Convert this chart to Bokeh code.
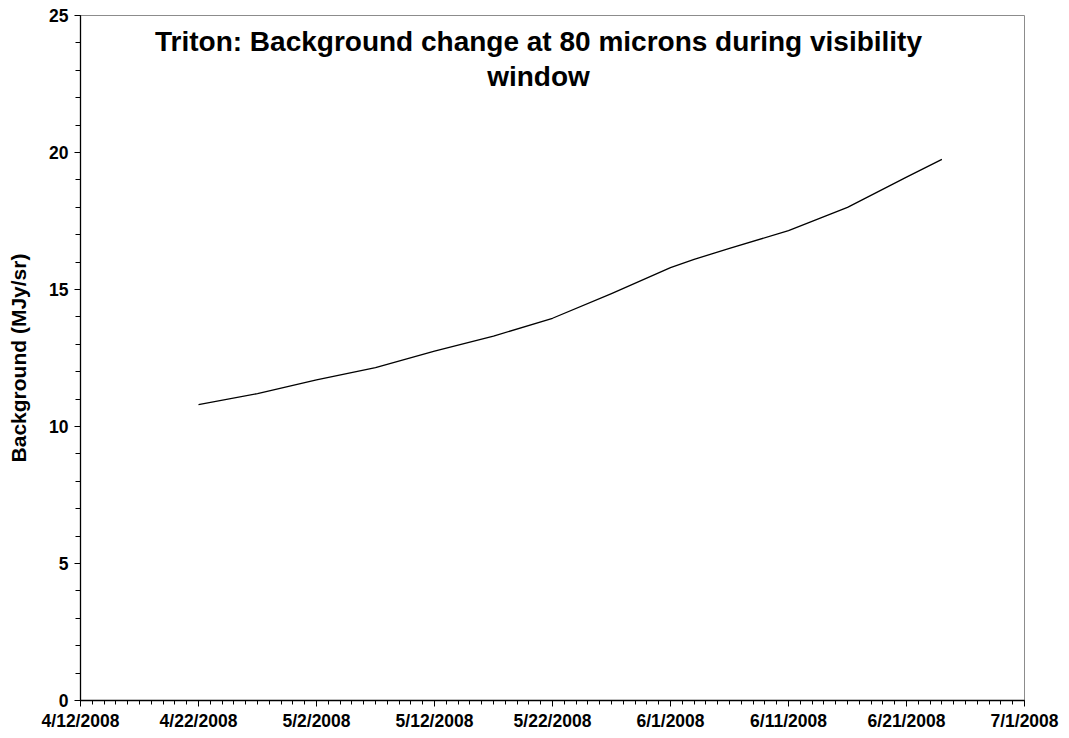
import datetime as dt
from bokeh.plotting import figure
from bokeh.models import FixedTicker, DatetimeTickFormatter, Label, Range1d, ColumnDataSource
from bokeh.embed import file_html
from bokeh.resources import INLINE

# ---- data ----
dates = ["2008-04-22", "2008-04-27", "2008-05-02", "2008-05-07", "2008-05-12",
         "2008-05-17", "2008-05-22", "2008-05-27", "2008-06-01", "2008-06-03",
         "2008-06-06", "2008-06-11", "2008-06-16", "2008-06-21", "2008-06-24"]
background = [10.8, 11.2, 11.7, 12.15, 12.75, 13.3, 13.95, 14.85, 15.8, 16.1,
              16.5, 17.15, 18.0, 19.1, 19.75]
x_start = "2008-04-12"
x_end = "2008-07-01"
major_step_days = 10
y_min, y_max = 0, 25
y_ticks = [0, 5, 10, 15, 20, 25]
title_lines = ["Triton: Background change at 80 microns during visibility", "window"]
y_label = "Background (MJy/sr)"

def to_dt(s):
    return dt.datetime.strptime(s, "%Y-%m-%d")

def ms(d):
    return (d - dt.datetime(1970, 1, 1)).total_seconds() * 1000.0

xs = [to_dt(d) for d in dates]
x0, x1 = to_dt(x_start), to_dt(x_end)
ndays = (x1 - x0).days
major = [ms(x0 + dt.timedelta(days=i)) for i in range(0, ndays + 1, major_step_days)]
minor = [ms(x0 + dt.timedelta(days=i)) for i in range(0, ndays + 1)]

W, H = 1060, 733
p = figure(width=W, height=H, x_axis_type="datetime", output_backend="svg",
           toolbar_location=None, x_range=Range1d(ms(x0), ms(x1)),
           y_range=Range1d(y_min, y_max),
           min_border_left=80, min_border_right=36, min_border_top=15, min_border_bottom=30)
p.background_fill_color = "white"
p.border_fill_color = "white"
p.outline_line_color = "#8c8c8c"
p.outline_line_width = 1
p.xgrid.visible = False
p.ygrid.visible = False

src = ColumnDataSource(dict(x=xs, y=background))
p.line("x", "y", source=src, line_color="black", line_width=1.3, line_join="round")

font = "Liberation Sans"
p.xaxis.ticker = FixedTicker(ticks=major, minor_ticks=minor)
p.xaxis.formatter = DatetimeTickFormatter(days="%-m/%-d/%Y", months="%-m/%-d/%Y",
                                          years="%-m/%-d/%Y", hours="%-m/%-d/%Y")
p.yaxis.ticker = FixedTicker(ticks=y_ticks, minor_ticks=list(range(y_min, y_max + 1)))
for ax in (p.xaxis, p.yaxis):
    ax.axis_line_color = "black"
    ax.axis_line_width = 1.3
    ax.major_tick_line_color = "black"
    ax.minor_tick_line_color = "black"
    ax.major_tick_in = 0
    ax.minor_tick_in = 0
    ax.major_label_text_font = font
    ax.major_label_text_font_style = "bold"
    ax.major_label_text_font_size = "17.5px"
    ax.major_label_text_color = "black"
p.xaxis.major_tick_out = 6
p.xaxis.minor_tick_out = 4
p.xaxis.major_label_standoff = 4
p.yaxis.major_tick_out = 6
p.yaxis.minor_tick_out = 5
p.yaxis.major_label_standoff = 6
p.yaxis.axis_label = y_label
p.yaxis.axis_label_text_font = font
p.yaxis.axis_label_text_font_style = "bold"
p.yaxis.axis_label_text_font_size = "21px"
p.yaxis.axis_label_text_color = "black"
p.yaxis.axis_label_standoff = 16

# title inside the plot frame (screen units, relative to the frame)
for i, t in enumerate(title_lines):
    p.add_layout(Label(x=458, y=659 - i * 35, x_units="screen", y_units="screen",
                       text=t, text_font=font, text_font_style="bold",
                       text_font_size="28px", text_align="center",
                       text_baseline="middle", text_color="black"))

open("out.html", "w").write(file_html(p, INLINE))
